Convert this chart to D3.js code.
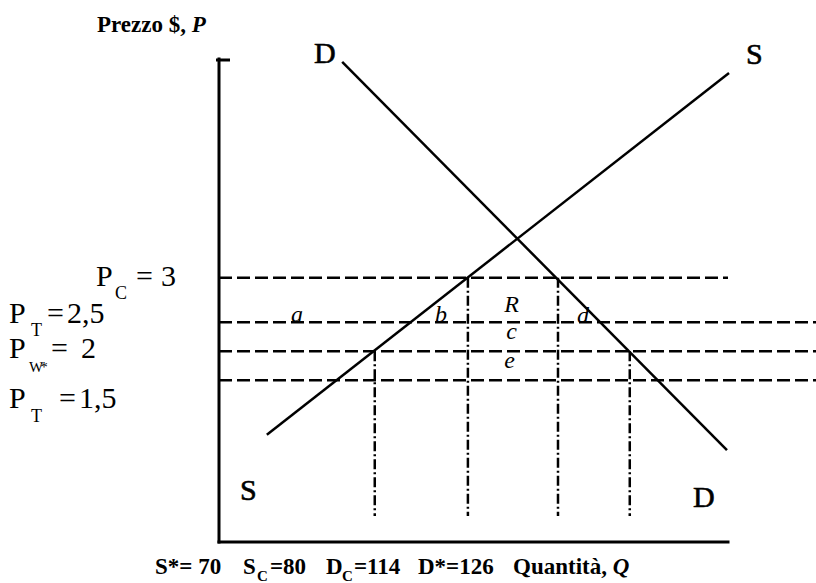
<!DOCTYPE html>
<html>
<head>
<meta charset="utf-8">
<script src="https://cdn.jsdelivr.net/npm/d3@7"></script>
</head>
<body style="margin:0">
<svg id="c" width="816" height="583"></svg>
<script>
// ---------- data (diagram units: both axes 0..100) ----------
const priceNames   = ["P_C", "P_T_high", "P_W", "P_T_low"];
const priceValues  = [3, 2.5, 2, 1.5];
const priceLevels  = [54.7, 45.5, 39.5, 33.5];      // vertical position of each price line
const priceLineEnd = [100, 117.3, 117.3, 117.3];    // how far right each dashed line runs

const qtyNames   = ["S*", "S_C", "D_C", "D*"];
const qtyValues  = [70, 80, 114, 126];
const qtyLevels  = [30.6, 48.9, 66.6, 80.7];        // horizontal position of each quantity line
const qtyTopIdx  = [2, 0, 0, 2];                    // price line where each quantity drop-line starts
const qtyBottom  = 5.4;

const supplyX = [9.4, 100.2];
const supplyY = [22.2, 97.1];
const demandX = [24.2, 99.8];
const demandY = [99.4, 19.0];

const areaLetters = ["a", "b", "R", "c", "e", "d"];
const areaX = [15.3, 43.6, 57.5, 57.5, 57.1, 71.5];
const areaY = [45.5, 45.5, 47.6, 42.0, 36.0, 45.3];

const yTitle = "Prezzo $, ";
const xTitle = "Quantit\u00e0, ";

// ---------- scales ----------
const x = d3.scaleLinear().domain([0, 100]).range([219, 728]);
const y = d3.scaleLinear().domain([0, 100]).range([542, 59]);

const svg = d3.select("#c");
const fmt = v => String(v).replace(".", ",");

// ---------- build every text item ----------
const texts = [];
// y title
texts.push({x: 97, y: 32, s: 23, w: "bold", parts: [[yTitle, "normal"], ["P", "italic"]]});
// curve labels
[["D", 314, 63], ["S", 746, 64], ["S", 240, 500], ["D", 693, 507]].forEach(c =>
  texts.push({x: c[1], y: c[2], s: 30, w: "normal", stroke: true, parts: [[c[0], "normal"]]}));
// area letters
areaLetters.forEach((d, i) =>
  texts.push({x: x(areaX[i]), y: y(areaY[i]), s: 24, w: "normal", anchor: "middle", parts: [[d, "italic"]]}));
// left price labels
const leftLabels = [
  {px: 96, py: 286, sub: "C",  sx: 115, sy: 299, ss: 18, ex: 136, vx: 161},
  {px: 9,  py: 323, sub: "T",  sx: 31,  sy: 336, ss: 18, ex: 47,  vx: 67},
  {px: 9,  py: 358, sub: "W*", sx: 29,  sy: 372, ss: 15, ex: 51,  vx: 81},
  {px: 9,  py: 408, sub: "T",  sx: 31,  sy: 422, ss: 18, ex: 59,  vx: 79}
];
leftLabels.forEach((l, i) => {
  texts.push({x: l.px, y: l.py, s: 30, w: "normal", parts: [["P", "normal"]]});
  texts.push({x: l.sx, y: l.sy, s: l.ss, w: "normal", ls: l.sub.length > 1 ? -3 : 0, parts: [[l.sub, "normal"]]});
  texts.push({x: l.ex, y: l.py, s: 30, w: "normal", parts: [["=", "normal"]]});
  texts.push({x: l.vx, y: l.py, s: 30, w: "normal", parts: [[fmt(priceValues[i]), "normal"]]});
});
// bottom quantity labels
const qPos = [
  {x: 155}, {x: 243, subX: 257, restX: 270}, {x: 326, subX: 342, restX: 354}, {x: 418}
];
qtyNames.forEach((n, i) => {
  const p = qPos[i];
  if (n.includes("_")) {
    const [main, sub] = n.split("_");
    texts.push({x: p.x, y: 574, s: 23, w: "bold", parts: [[main, "normal"]]});
    texts.push({x: p.subX, y: 581, s: 15, w: "bold", parts: [[sub, "normal"]]});
    texts.push({x: p.restX, y: 574, s: 23, w: "bold", parts: [["=" + qtyValues[i], "normal"]]});
  } else {
    texts.push({x: p.x, y: 574, s: 23, w: "bold", parts: [[n + (i === 0 ? "= " : "=") + qtyValues[i], "normal"]]});
  }
});
texts.push({x: 513, y: 574, s: 23, w: "bold", parts: [[xTitle, "normal"], ["Q", "italic"]]});

// ---------- draw texts ----------
const tsel = svg.selectAll("text").data(texts).join("text")
  .attr("x", d => d.x).attr("y", d => d.y).attr("font-size", d => d.s)
  .style("font-family", '"Liberation Serif"')
  .style("font-weight", d => d.w)
  .attr("text-anchor", d => d.anchor || "start")
  .attr("letter-spacing", d => d.ls || 0)
  .attr("stroke", d => d.stroke ? "#000" : null)
  .attr("stroke-width", d => d.stroke ? 0.6 : null);
tsel.selectAll("tspan").data(d => d.parts).join("tspan")
  .style("font-style", d => d[1]).text(d => d[0]);

// ---------- axes (plain lines from the scales) ----------
const axes = [
  [[0, 0], [0, 100]],
  [[0, 0], [100, 0]]
];
const lineGen = d3.line().x(d => x(d[0])).y(d => y(d[1]));
svg.append("g").selectAll("path").data(axes).join("path")
  .attr("d", lineGen).attr("fill", "none")
  .attr("stroke", "#000").attr("stroke-width", 3).attr("stroke-linecap", "square");
// small cap at top of the price axis
svg.append("line")
   .attr("x1", x(0) - 3).attr("x2", x(0) + 11)
   .attr("y1", y(100) + 1).attr("y2", y(100) + 1)
   .attr("stroke", "#000").attr("stroke-width", 3);

// ---------- dashed price lines ----------
svg.append("g").selectAll("line").data(priceLevels).join("line")
   .attr("x1", x(0)).attr("x2", (d, i) => x(priceLineEnd[i]))
   .attr("y1", d => y(d)).attr("y2", d => y(d))
   .attr("stroke", "#000").attr("stroke-width", 2.5)
   .attr("stroke-dasharray", "13,5");

// ---------- dash-dot quantity lines ----------
svg.append("g").selectAll("line").data(qtyLevels).join("line")
   .attr("x1", d => x(d)).attr("x2", d => x(d))
   .attr("y1", (d, i) => y(priceLevels[qtyTopIdx[i]]))
   .attr("y2", y(qtyBottom))
   .attr("stroke", "#000").attr("stroke-width", 2.5)
   .attr("stroke-dasharray", "10,3,2,3");

// ---------- supply & demand ----------
svg.append("path").datum(d3.zip(supplyX, supplyY)).attr("d", lineGen)
   .attr("fill", "none").attr("stroke", "#000").attr("stroke-width", 2.5);
svg.append("path").datum(d3.zip(demandX, demandY)).attr("d", lineGen)
   .attr("fill", "none").attr("stroke", "#000").attr("stroke-width", 2.5);
</script>
</body>
</html>
